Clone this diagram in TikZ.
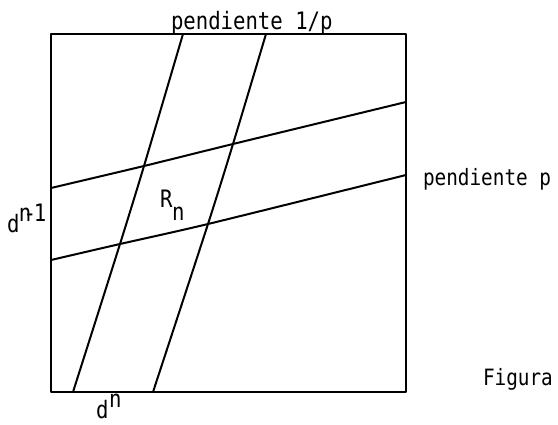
\documentclass[tikz,border=0pt]{standalone}
\usepackage{fontspec}
\newfontfamily\tw[FakeStretch=0.86]{DejaVu Sans Mono}
\tikzset{
  ln/.style={line width=2pt, line join=round, line cap=round},
  lbl/.style={inner sep=0pt, outer sep=0pt, anchor=base west, font=\tw\fontsize{24}{27}\selectfont},
  lblsm/.style={lbl, font=\tw\fontsize{22.5}{25}\selectfont}
}
\begin{document}
\begin{tikzpicture}[x=1pt,y=-1pt]
\useasboundingbox (0,0) rectangle (558,425);
% frame
\draw[ln] (51,34) rectangle (406,392);
% lines of slope p
\draw[ln] plot[smooth,tension=0.4] coordinates {(51,188) (144,166) (233,144) (406,102)};
\draw[ln] plot[smooth,tension=0.4] coordinates {(51,260) (120,244) (208,224) (406,175)};
% lines of slope 1/p
\draw[ln] plot[smooth,tension=0.4] coordinates {(73,392) (120,244) (144,166) (183,34)};
\draw[ln] plot[smooth,tension=0.4] coordinates {(153,392) (208,224) (233,144) (266,34)};
% labels
\node[lbl] (top) at (171,30) {pendiente 1/p};
\node[lblsm] (right) at (423,186) {pendiente p};
\node[lblsm] (fig) at (483,385) {Figura};
\node[lbl] (dn1) at (7,233) {d};
\node[lbl] (dn1s) at (19,222) {n\kern-0.32em-\kern-0.1em1};
\node[lbl] (R) at (160,208) {R};
\node[lbl] (Rs) at (172,221) {n};
\node[lbl] (dn) at (96,419) {d};
\node[lbl] (dns) at (109,407) {n};
\end{tikzpicture}
\end{document}
